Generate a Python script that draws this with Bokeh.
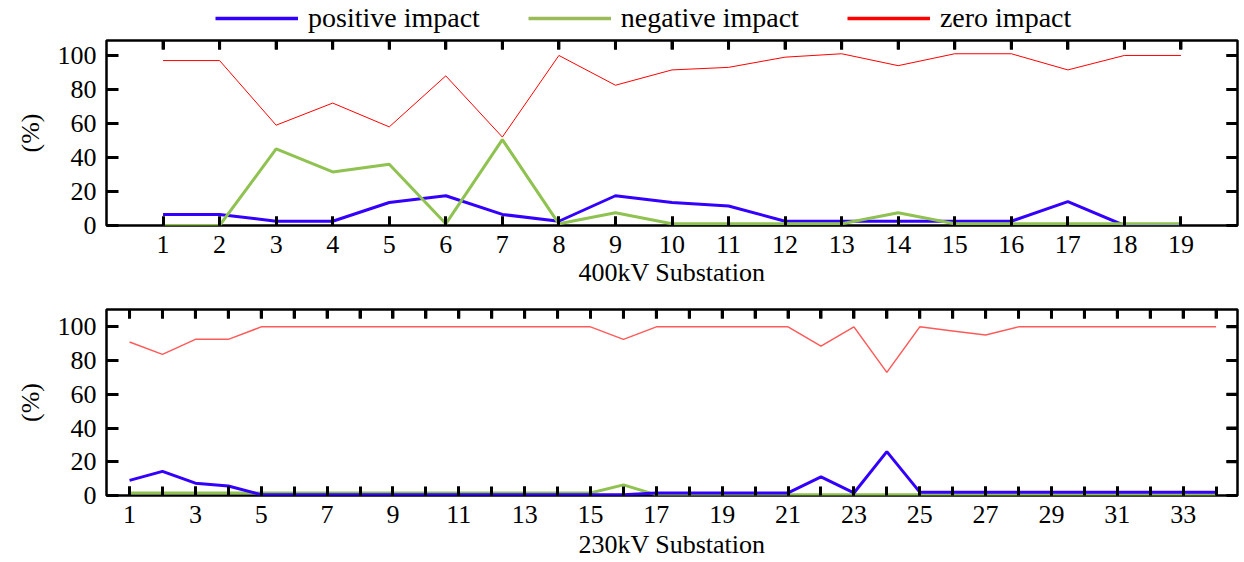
from bokeh.plotting import figure
from bokeh.models import (Range1d, LinearAxis, FixedTicker, Legend, LegendItem,
                          CustomLabelingPolicy)
from bokeh.layouts import column
from bokeh.embed import file_html
from bokeh.resources import INLINE

# ---------------- data ----------------
sub400 = list(range(1, 20))
pos400 = [6.5, 6.5, 2.5, 2.5, 13.5, 17.5, 6.5, 2.5, 17.5, 13.5, 11.5, 2.5, 2.5, 2.5, 2.5, 2.5, 14, 0, 0]
neg400 = [0, 0, 45, 31.5, 36, 1, 50.5, 1, 7.5, 1, 1, 1, 1, 7.5, 1, 1, 1, 1, 1]
zero400 = [97, 97, 59, 72, 58, 88, 52, 100, 82.5, 91.5, 93, 99, 101, 94, 101, 101, 91.5, 100, 100]

sub230 = list(range(1, 35))
pos230 = [9, 14.3, 7.3, 5.6, 0.5, 0.5, 0.5, 0.5, 0.5, 0.5, 0.5, 0.5, 0.5, 0.5, 0.5, 0.5,
          1.5, 1.5, 1.5, 1.5, 1.5, 11, 1.5, 26, 2, 2, 2, 2, 2, 2, 2, 2, 2, 2]
neg230 = [1.5, 1.5, 1.5, 1.5, 1.5, 1.5, 1.5, 1.5, 1.5, 1.5, 1.5, 1.5, 1.5, 1.5, 1.5, 6.3,
          0.4, 0.4, 0.4, 0.4, 0.4, 0.4, 0.4, 0.4, 0.4, 0.4, 0.4, 0.4, 0.4, 0.4, 0.4, 0.4, 0.4, 0.4]
zero230 = [91, 83.7, 92.6, 92.6, 100, 100, 100, 100, 100, 100, 100, 100, 100, 100, 100, 92.6,
           100, 100, 100, 100, 100, 88.6, 100, 73, 100, 97.6, 95.2, 100, 100, 100, 100, 100, 100, 100]

xticks400 = list(range(1, 20))
xlabels400 = [str(i) for i in xticks400]
xticks230 = list(range(1, 35))
xlabels230 = [str(i) if i % 2 == 1 else "" for i in xticks230]
yticks = [0, 20, 40, 60, 80, 100]
series_names = ["positive impact", "negative impact", "zero impact"]
xtitles = ["400kV Substation", "230kV Substation"]
ytitle = "(%)"

BLUE = "#3300ff"
GREEN = "#8fc250"
LEG_GREEN = "#9bbb59"
RED = "#ff0000"
FONT = "Liberation Serif"
FS = "26px"
W = 1242
BORDER_L, BORDER_R = 106, 0
TICK_W = 3


def make_fig(height, top, bottom, xr, yr, xticks, xlabels, xtitle, title_standoff):
    p = figure(width=W, height=height, output_backend="svg", toolbar_location=None,
               x_range=Range1d(*xr), y_range=Range1d(*yr),
               min_border_left=BORDER_L, min_border_right=BORDER_R, min_border_top=top,
               min_border_bottom=bottom, x_axis_location=None, y_axis_location=None)
    p.xgrid.visible = False
    p.ygrid.visible = False
    p.outline_line_color = "black"
    p.outline_line_width = 2.5
    p.background_fill_color = "white"
    p.border_fill_color = "white"

    label_map = {t: l for t, l in zip(xticks, xlabels) if l}

    def common(ax):
        ax.major_tick_out = 0
        ax.minor_tick_out = 0
        ax.major_tick_line_color = "black"
        ax.major_tick_line_width = TICK_W
        ax.minor_tick_line_color = "black"
        ax.minor_tick_line_width = TICK_W
        ax.axis_line_color = None
        ax.major_label_text_font = FONT
        ax.major_label_text_font_size = FS
        ax.major_label_text_color = "black"
        ax.axis_label_text_font = FONT
        ax.axis_label_text_font_size = FS
        ax.axis_label_text_font_style = "normal"
        ax.axis_label_text_color = "black"

    # bottom axis: a tick at every substation, labels only where given
    xb = LinearAxis(axis_label=xtitle)
    common(xb)
    xb.ticker = FixedTicker(ticks=list(label_map.keys()), minor_ticks=xticks)
    xb.major_tick_in = 9
    xb.minor_tick_in = 9
    xb.major_label_standoff = 10
    xb.axis_label_standoff = title_standoff
    p.add_layout(xb, "below")

    yl = LinearAxis(axis_label=ytitle)
    common(yl)
    yl.ticker = FixedTicker(ticks=yticks)
    yl.major_tick_in = 12
    yl.minor_tick_in = 0
    yl.major_label_standoff = 10
    yl.axis_label_standoff = 10
    p.add_layout(yl, "left")

    # mirrored inward ticks on the top and right frame edges (no labels)
    xt = LinearAxis()
    common(xt)
    xt.ticker = FixedTicker(ticks=xticks)
    xt.major_tick_in = 9
    xt.minor_tick_in = 0
    xt.major_label_text_font_size = "1px"
    xt.major_label_standoff = 0
    xt.major_label_policy = CustomLabelingPolicy(code="return []")
    p.add_layout(xt, "above")

    yrt = LinearAxis()
    common(yrt)
    yrt.ticker = FixedTicker(ticks=yticks)
    yrt.major_tick_in = 11
    yrt.minor_tick_in = 0
    yrt.major_label_text_font_size = "1px"
    yrt.major_label_standoff = 0
    yrt.major_label_policy = CustomLabelingPolicy(code="return []")
    p.add_layout(yrt, "right")

    # the same inward ticks drawn as short segments inside the frame as well
    frame_h = height - top - bottom
    frame_w = W - BORDER_L - 5
    dy = 9.0 / frame_h * (yr[1] - yr[0])
    dx = 11.0 / frame_w * (xr[1] - xr[0])
    p.segment(x0=xticks, y0=[yr[1]] * len(xticks), x1=xticks, y1=[yr[1] - dy] * len(xticks),
              line_color="black", line_width=TICK_W)
    p.segment(x0=[xr[1]] * len(yticks), y0=yticks, x1=[xr[1] - dx] * len(yticks), y1=yticks,
              line_color="black", line_width=TICK_W)
    return p


# ---- legend strip ----
leg = figure(width=W, height=36, output_backend="svg", toolbar_location=None,
             x_range=Range1d(0, 1), y_range=Range1d(0, 1),
             min_border=0, x_axis_location=None, y_axis_location=None)
leg.xgrid.visible = False
leg.ygrid.visible = False
leg.outline_line_color = None
nan = float("nan")
g_pos = leg.line([nan], [nan], line_color=BLUE, line_width=3.5)
g_neg = leg.line([nan], [nan], line_color=LEG_GREEN, line_width=3.5)
g_zero = leg.line([nan], [nan], line_color=RED, line_width=3.5)
legend = Legend(items=[LegendItem(label=series_names[0], renderers=[g_pos]),
                       LegendItem(label=series_names[1], renderers=[g_neg]),
                       LegendItem(label=series_names[2], renderers=[g_zero])],
                orientation="horizontal", location=(109, 2),
                glyph_width=83, glyph_height=28, label_standoff=10, spacing=48,
                padding=0, margin=0, border_line_color=None,
                background_fill_alpha=0, label_text_font=FONT,
                label_text_font_size="28px", label_text_color="black",
                label_height=28)
leg.add_layout(legend, "center")

# ---- 400 kV panel ----
p1 = make_fig(253, 4, 64, (0, 20), (0, 108.8), xticks400, xlabels400, xtitles[0], 2)
p1.line(sub400, pos400, line_color=BLUE, line_width=3)
p1.line(sub400, neg400, line_color=GREEN, line_width=3)
p1.line(sub400, zero400, line_color=RED, line_width=1)

# ---- 230 kV panel ----
p2 = make_fig(272, 20, 66, (0.3, 34.65), (0, 110.3), xticks230, xlabels230, xtitles[1], 4)
p2.line(sub230, zero230, line_color="#ff5a5a", line_width=1.5)
p2.line(sub230, neg230, line_color=GREEN, line_width=3)
p2.line(sub230, pos230, line_color=BLUE, line_width=3)

layout = column(leg, p1, p2, spacing=0)
open("out.html", "w").write(file_html(layout, INLINE))
